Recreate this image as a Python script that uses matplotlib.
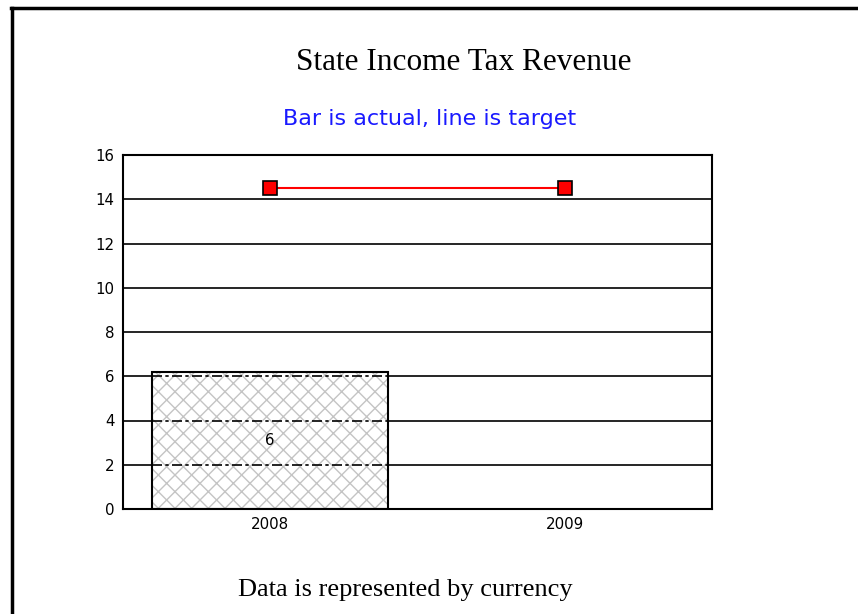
import matplotlib.pyplot as plt
from matplotlib.lines import Line2D

# chart data
years = ['2008', '2009']
actual = [6.2, None]
actual_labels = ['6', '']
target = [14.5, 14.5]
y_ticks = [0, 2, 4, 6, 8, 10, 12, 14, 16]

fig = plt.figure(figsize=(8.58, 6.14), dpi=100)
ax = fig.add_axes([123 / 858, 1 - 509 / 614, 589 / 858, 354 / 614])

x = list(range(len(years)))
bar_w = 0.8

# horizontal grid lines behind everything
for t in y_ticks:
    ax.axhline(t, color='black', lw=1.2, zorder=0)

# actual values as hatched bars
for i, v in enumerate(actual):
    if v is None:
        continue
    ax.bar(x[i], v, width=bar_w, color='white', edgecolor='#c4c4c4',
           hatch='xx', linewidth=0, zorder=2)
    # grid shows through the bar as dash-dot lines
    for t in y_ticks:
        if 0 < t < v:
            ax.hlines(t, x[i] - bar_w / 2, x[i] + bar_w / 2, colors='black',
                      linestyles=(0, (6, 2, 2, 2)), lw=1.2, zorder=3)
    ax.bar(x[i], v, width=bar_w, color='none', edgecolor='black',
           linewidth=1.5, zorder=4)
    ax.text(x[i], v / 2, actual_labels[i], ha='center', va='center',
            fontsize=10.8, family='DejaVu Sans', zorder=5)

# target line
ax.plot(x, target, color='red', lw=1.5, marker='s', markersize=9.5,
        markerfacecolor='red', markeredgecolor='black', markeredgewidth=1.2,
        zorder=6)

ax.set_xlim(-0.5, 1.5)
ax.set_ylim(0, 16)
ax.set_xticks(x)
ax.set_xticklabels(years, family='DejaVu Sans', fontsize=10.8)
ax.set_yticks(y_ticks)
ax.set_yticklabels([str(t) for t in y_ticks], family='DejaVu Sans', fontsize=10.8)
ax.tick_params(length=0, pad=6)
for s in ax.spines.values():
    s.set_linewidth(1.5)

# titles and footer
fig.text(464 / 858, 1 - 62 / 614, 'State Income Tax Revenue', ha='center',
         va='center', family='Liberation Serif', fontsize=22.5)
fig.text(430 / 858, 1 - 119 / 614, 'Bar is actual, line is target', ha='center',
         va='center', family='DejaVu Sans', fontsize=16, color='#1a1aff')
fig.text(405 / 858, 1 - 590 / 614, 'Data is represented by currency', ha='center',
         va='center', family='Liberation Serif', fontsize=19)

# page frame (top and left edges)
fig.add_artist(Line2D([11 / 858, 1], [1 - 8 / 614, 1 - 8 / 614], color='black', lw=2.5,
                      transform=fig.transFigure))
fig.add_artist(Line2D([12 / 858, 12 / 858], [0, 1 - 8 / 614], color='black', lw=2.5,
                      transform=fig.transFigure))

fig.savefig('out.png', dpi=100)
